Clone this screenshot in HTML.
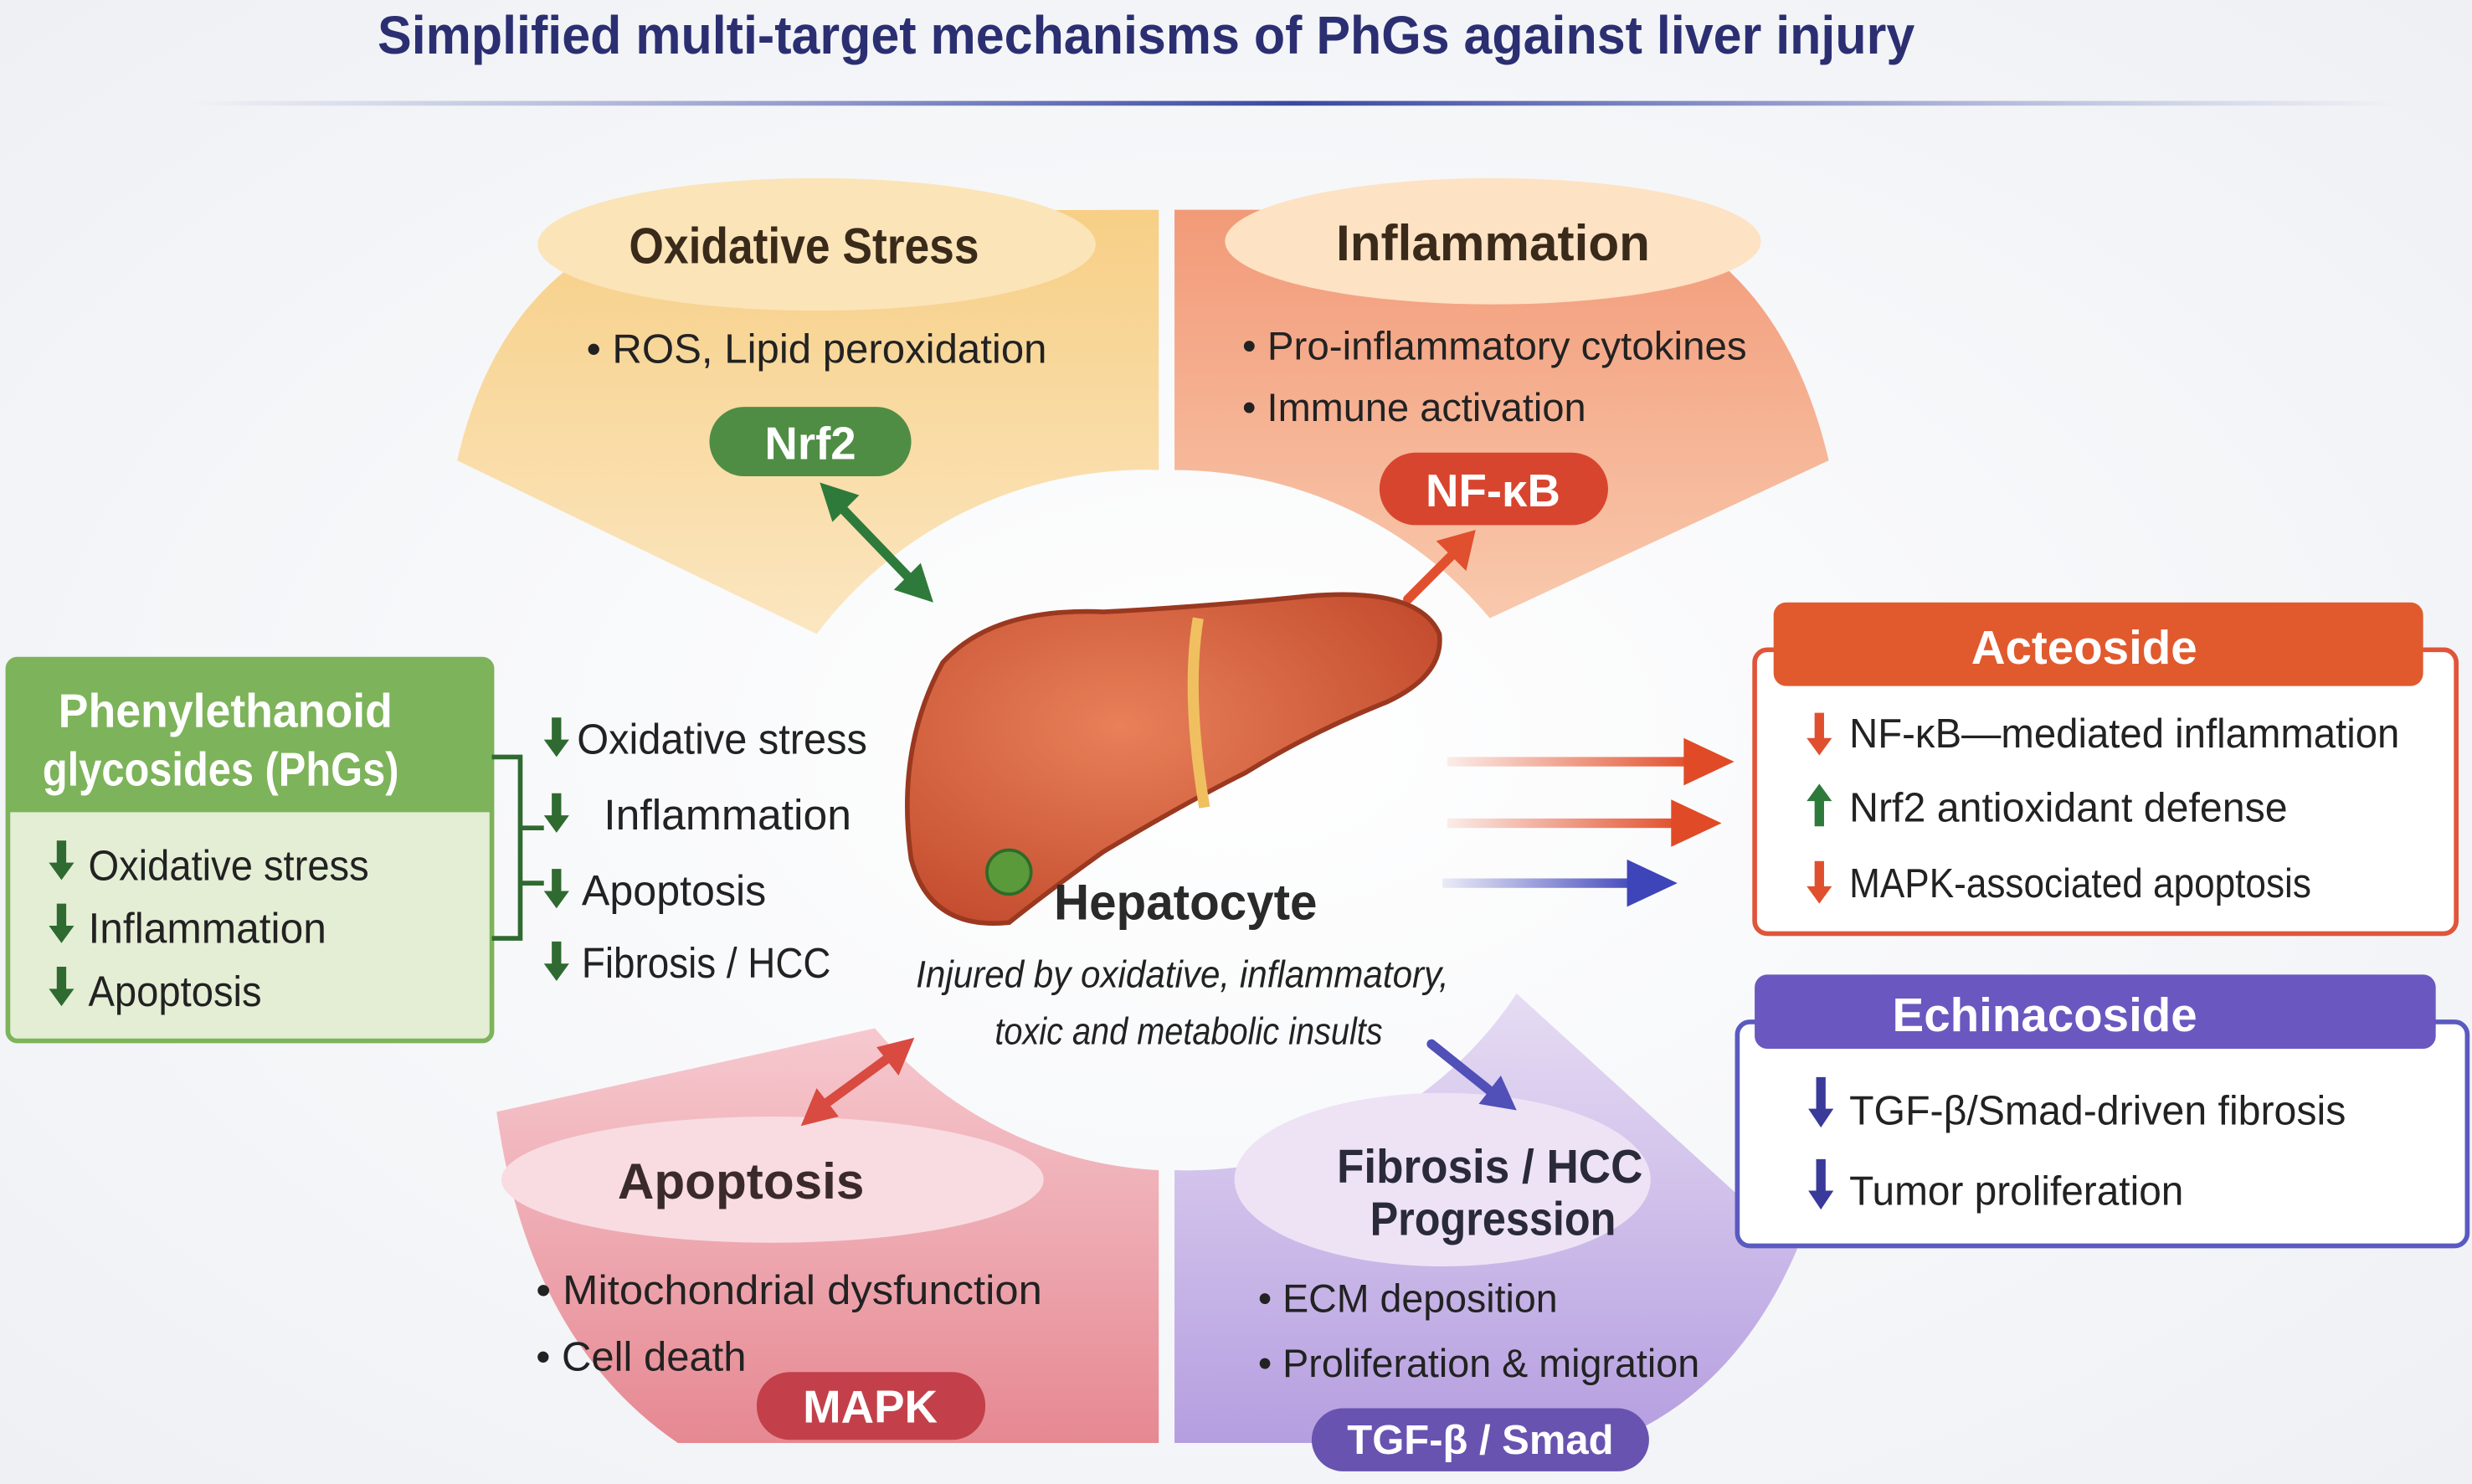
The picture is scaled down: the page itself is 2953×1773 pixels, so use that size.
<!DOCTYPE html>
<html><head><meta charset="utf-8"><style>
html,body{margin:0;padding:0;background:#f5f6f9;}
svg{display:block;}
text{font-family:"Liberation Sans",sans-serif;}
</style></head><body>
<svg width="2953" height="1773" viewBox="0 0 1568 941" preserveAspectRatio="none" xmlns="http://www.w3.org/2000/svg">
<defs>
<radialGradient id="bg" cx="50%" cy="50%" r="70%"><stop offset="0" stop-color="#ffffff"/><stop offset="1" stop-color="#eef0f4"/></radialGradient>
<linearGradient id="tl" x1="0" y1="0" x2="0" y2="1"><stop offset="0" stop-color="#f7cf86"/><stop offset="1" stop-color="#fbe6c0"/></linearGradient>
<linearGradient id="tr" x1="0" y1="0" x2="0" y2="1"><stop offset="0" stop-color="#f29a78"/><stop offset="1" stop-color="#f9c9ad"/></linearGradient>
<linearGradient id="bl" x1="0" y1="0" x2="0" y2="1"><stop offset="0" stop-color="#f6c9cf"/><stop offset="1" stop-color="#e68892"/></linearGradient>
<linearGradient id="br" x1="0" y1="0" x2="0" y2="1"><stop offset="0" stop-color="#e6dcf3"/><stop offset="1" stop-color="#b59ee0"/></linearGradient>
<linearGradient id="ln" x1="0" x2="1"><stop offset="0" stop-color="#5060b0" stop-opacity="0"/><stop offset=".5" stop-color="#3a48a0"/><stop offset="1" stop-color="#5060b0" stop-opacity="0"/></linearGradient>
<linearGradient id="ra" x1="0" x2="1"><stop offset="0" stop-color="#e8552e" stop-opacity="0.1"/><stop offset="1" stop-color="#e04a26"/></linearGradient>
<linearGradient id="ba" x1="0" x2="1"><stop offset="0" stop-color="#4a4fc0" stop-opacity="0.1"/><stop offset="1" stop-color="#3e45b8"/></linearGradient>
<radialGradient id="lv" cx="40%" cy="40%" r="70%"><stop offset="0" stop-color="#e8805a"/><stop offset="1" stop-color="#c24a2c"/></radialGradient>
</defs>
<rect width="1568" height="941" fill="url(#bg)"/>
<text x="727" y="34" text-anchor="middle" font-size="34" font-weight="bold" fill="#2b2f72" textLength="975" lengthAdjust="spacingAndGlyphs">Simplified multi-target mechanisms of PhGs against liver injury</text>
<rect x="120" y="64" width="1400" height="3" fill="url(#ln)"/>

<path d="M290 292 Q320 160 440 134 L735 133 L735 298 A262 262 0 0 0 518 402 Z" fill="url(#tl)"/>
<path d="M745 133 L1030 133 Q1130 165 1160 292 L945 392 A262 262 0 0 0 745 298 Z" fill="url(#tr)"/>
<path d="M315 705 L555 652 A250 250 0 0 0 735 742 L735 915 L430 915 Q335 850 315 705 Z" fill="url(#bl)"/>
<path d="M745 742 A250 250 0 0 0 962 630 L1140 792 Q1100 885 1020 915 L745 915 Z" fill="url(#br)"/>

<ellipse cx="518" cy="155" rx="177" ry="42" fill="#fbe4b8"/>
<text x="510" y="167" text-anchor="middle" font-size="32" font-weight="bold" fill="#3a2a1a" textLength="222" lengthAdjust="spacingAndGlyphs">Oxidative Stress</text>
<text x="372" y="230" font-size="26" fill="#222" textLength="292" lengthAdjust="spacingAndGlyphs">• ROS, Lipid peroxidation</text>
<rect x="450" y="258" width="128" height="44" rx="22" fill="#4f8d45"/>
<text x="514" y="291" text-anchor="middle" font-size="29" font-weight="bold" fill="#fff">Nrf2</text>

<ellipse cx="947" cy="153" rx="170" ry="40" fill="#fde2c4"/>
<text x="947" y="165" text-anchor="middle" font-size="32" font-weight="bold" fill="#3a2a1a">Inflammation</text>
<text x="788" y="228" font-size="25" fill="#222" textLength="320" lengthAdjust="spacingAndGlyphs">• Pro-inflammatory cytokines</text>
<text x="788" y="267" font-size="25" fill="#222" textLength="218" lengthAdjust="spacingAndGlyphs">• Immune activation</text>
<rect x="875" y="287" width="145" height="46" rx="23" fill="#d8452e"/>
<text x="947" y="321" text-anchor="middle" font-size="29" font-weight="bold" fill="#fff">NF-κB</text>

<ellipse cx="490" cy="748" rx="172" ry="40" fill="#f8dce1"/>
<text x="470" y="760" text-anchor="middle" font-size="32" font-weight="bold" fill="#3a2a2a">Apoptosis</text>
<text x="340" y="827" font-size="26" fill="#222" textLength="321" lengthAdjust="spacingAndGlyphs">• Mitochondrial dysfunction</text>
<text x="340" y="869" font-size="26" fill="#222">• Cell death</text>
<rect x="480" y="870" width="145" height="43" rx="21" fill="#c3404a"/>
<text x="552" y="902" text-anchor="middle" font-size="29" font-weight="bold" fill="#fff">MAPK</text>

<ellipse cx="915" cy="748" rx="132" ry="55" fill="#ede3f5"/>
<text x="945" y="750" text-anchor="middle" font-size="30" font-weight="bold" fill="#2a2a3a" textLength="194" lengthAdjust="spacingAndGlyphs">Fibrosis / HCC</text>
<text x="947" y="783" text-anchor="middle" font-size="30" font-weight="bold" fill="#2a2a3a" textLength="156" lengthAdjust="spacingAndGlyphs">Progression</text>
<text x="798" y="832" font-size="25" fill="#222" textLength="190" lengthAdjust="spacingAndGlyphs">• ECM deposition</text>
<text x="798" y="873" font-size="25" fill="#222" textLength="280" lengthAdjust="spacingAndGlyphs">• Proliferation &amp; migration</text>
<rect x="832" y="893" width="214" height="40" rx="20" fill="#6853b0"/>
<text x="939" y="922" text-anchor="middle" font-size="26" font-weight="bold" fill="#fff">TGF-β / Smad</text>

<g stroke-width="6" fill="none" stroke-linecap="round">
<line x1="530" y1="318" x2="582" y2="372" stroke="#2e7a3a"/>
<line x1="893" y1="380" x2="925" y2="348" stroke="#e0502e"/>
<line x1="518" y1="704" x2="570" y2="666" stroke="#d94a40"/>
<line x1="908" y1="662" x2="948" y2="694" stroke="#5050b8"/>
</g>
<polygon points="520,306 545,314 528,331" fill="#2e7a3a"/>
<polygon points="592,382 567,374 584,357" fill="#2e7a3a"/>
<polygon points="936,336 930,362 911,343" fill="#e0502e"/>
<polygon points="508,714 518,690 532,708" fill="#d94a40"/>
<polygon points="580,658 570,682 556,664" fill="#d94a40"/>
<polygon points="962,704 938,700 952,682" fill="#5050b8"/>

<path d="M598 420 Q630 385 700 388 Q760 385 830 378 Q900 372 913 402 Q916 428 880 445 Q830 465 790 490 Q750 510 700 540 Q665 565 640 585 Q590 590 578 545 Q568 475 598 420 Z" fill="url(#lv)" stroke="#9a3820" stroke-width="3"/>
<path d="M760 392 Q752 440 764 512" stroke="#f0c060" stroke-width="7" fill="none"/>
<circle cx="640" cy="553" r="14" fill="#5a9a3a" stroke="#2f6a28" stroke-width="2"/>
<text x="752" y="583" text-anchor="middle" font-size="32" font-weight="bold" fill="#2a2a2a" textLength="167" lengthAdjust="spacingAndGlyphs">Hepatocyte</text>
<text x="750" y="626" text-anchor="middle" font-size="24" font-style="italic" fill="#222" textLength="338" lengthAdjust="spacingAndGlyphs">Injured by oxidative, inflammatory,</text>
<text x="754" y="662" text-anchor="middle" font-size="24" font-style="italic" fill="#222" textLength="246" lengthAdjust="spacingAndGlyphs">toxic and metabolic insults</text>

<rect x="918" y="480" width="160" height="6" fill="url(#ra)"/><polygon points="1100,483 1068,468 1068,498" fill="#e04a26"/>
<rect x="918" y="519" width="152" height="6" fill="url(#ra)"/><polygon points="1092,522 1060,507 1060,537" fill="#e04a26"/>
<rect x="915" y="557" width="126" height="6" fill="url(#ba)"/><polygon points="1064,560 1032,545 1032,575" fill="#3e45b8"/>

<rect x="5" y="418" width="307" height="242" rx="6" fill="#e4eed5" stroke="#7db35a" stroke-width="3"/>
<path d="M5 424 Q5 418 11 418 L306 418 Q312 418 312 424 L312 515 L5 515 Z" fill="#7db35a"/>
<text x="143" y="461" text-anchor="middle" font-size="30" font-weight="bold" fill="#fff" textLength="212" lengthAdjust="spacingAndGlyphs">Phenylethanoid</text>
<text x="140" y="498" text-anchor="middle" font-size="30" font-weight="bold" fill="#fff" textLength="226" lengthAdjust="spacingAndGlyphs">glycosides (PhGs)</text>
<g font-size="27" fill="#222">
<text x="56" y="558" textLength="178" lengthAdjust="spacingAndGlyphs">Oxidative stress</text>
<text x="56" y="598" textLength="151" lengthAdjust="spacingAndGlyphs">Inflammation</text>
<text x="56" y="638" textLength="110" lengthAdjust="spacingAndGlyphs">Apoptosis</text>
</g>
<g fill="#2f6a30">
<path d="M36 533 h6 v14 h5 l-8 11 l-8 -11 h5z"/>
<path d="M36 573 h6 v14 h5 l-8 11 l-8 -11 h5z"/>
<path d="M36 613 h6 v14 h5 l-8 11 l-8 -11 h5z"/>
</g>
<path d="M312 480 H330 V595 H312 M330 525 H345 M330 560 H345" stroke="#2f6a30" stroke-width="3" fill="none"/>
<g font-size="27" fill="#222">
<text x="366" y="478" textLength="184" lengthAdjust="spacingAndGlyphs">Oxidative stress</text>
<text x="383" y="526" textLength="157" lengthAdjust="spacingAndGlyphs">Inflammation</text>
<text x="369" y="574" textLength="117" lengthAdjust="spacingAndGlyphs">Apoptosis</text>
<text x="369" y="620" textLength="158" lengthAdjust="spacingAndGlyphs">Fibrosis / HCC</text>
</g>
<g fill="#2f6a30">
<path d="M350 455 h6 v14 h5 l-8 11 l-8 -11 h5z"/>
<path d="M350 503 h6 v14 h5 l-8 11 l-8 -11 h5z"/>
<path d="M350 551 h6 v14 h5 l-8 11 l-8 -11 h5z"/>
<path d="M350 597 h6 v14 h5 l-8 11 l-8 -11 h5z"/>
</g>

<rect x="1113" y="412" width="445" height="180" rx="8" fill="#fff" stroke="#e0553a" stroke-width="3"/>
<rect x="1125" y="382" width="412" height="53" rx="8" fill="#e05a2e"/>
<text x="1322" y="421" text-anchor="middle" font-size="30" font-weight="bold" fill="#fff">Acteoside</text>
<g font-size="26" fill="#222">
<text x="1173" y="474" textLength="349" lengthAdjust="spacingAndGlyphs">NF-κB—mediated inflammation</text>
<text x="1173" y="521" textLength="278" lengthAdjust="spacingAndGlyphs">Nrf2 antioxidant defense</text>
<text x="1173" y="569" textLength="293" lengthAdjust="spacingAndGlyphs">MAPK-associated apoptosis</text>
</g>
<path d="M1151 452 h6 v16 h5 l-8 11 l-8 -11 h5z" fill="#e0502e"/>
<path d="M1151 524 h6 v-16 h5 l-8 -11 l-8 11 h5z" fill="#2e7a3a"/>
<path d="M1151 546 h6 v16 h5 l-8 11 l-8 -11 h5z" fill="#e0502e"/>

<rect x="1102" y="648" width="463" height="142" rx="8" fill="#fff" stroke="#5a5ac0" stroke-width="3"/>
<rect x="1113" y="618" width="432" height="47" rx="8" fill="#6a58c0"/>
<text x="1297" y="654" text-anchor="middle" font-size="30" font-weight="bold" fill="#fff">Echinacoside</text>
<g font-size="26" fill="#222">
<text x="1173" y="713" textLength="315" lengthAdjust="spacingAndGlyphs">TGF-β/Smad-driven fibrosis</text>
<text x="1173" y="764" textLength="212" lengthAdjust="spacingAndGlyphs">Tumor proliferation</text>
</g>
<path d="M1152 683 h6 v20 h5 l-8 12 l-8 -12 h5z" fill="#3a3a9a"/>
<path d="M1152 735 h6 v20 h5 l-8 12 l-8 -12 h5z" fill="#3a3a9a"/>
</svg>
</body></html>
